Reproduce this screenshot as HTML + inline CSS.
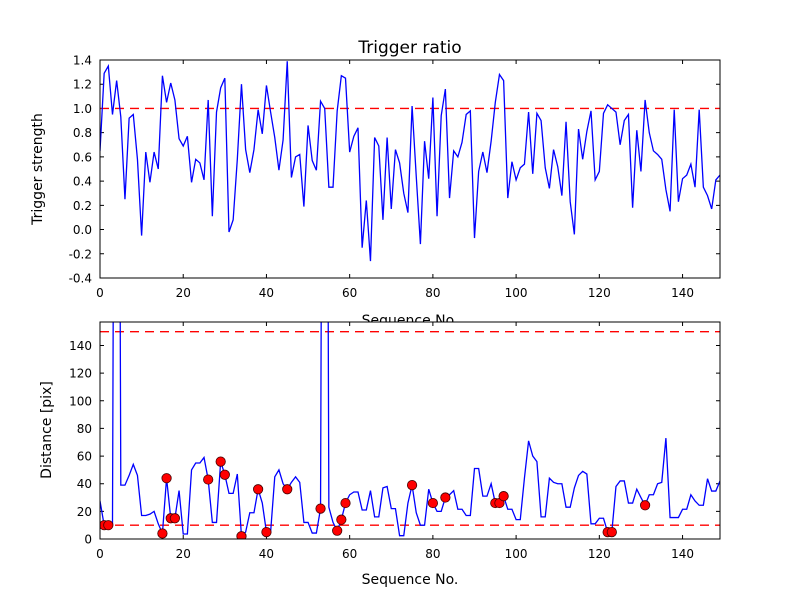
<!DOCTYPE html>
<html><head><meta charset="utf-8"><style>
html,body{margin:0;padding:0;background:#fff;}
svg{display:block;font-family:"DejaVu Sans","Liberation Sans",sans-serif;}
</style></head><body>
<svg id="chart" width="800" height="600" viewBox="0 0 800 600">
<rect width="800" height="600" fill="#fff"/>
<defs>
<clipPath id="c1"><rect x="100" y="60" width="620" height="218"/></clipPath>
<clipPath id="c2"><rect x="100" y="322" width="620" height="217"/></clipPath>
</defs>
<text x="410" y="325" font-size="14" text-anchor="middle">Sequence No.</text>
<rect x="100" y="322" width="620" height="217" fill="#fff"/>
<g id="top"></g><g id="bot"></g>
</svg>
<script>
const seqIndex = Array.from({length:150},(_,i)=>i);
const triggerStrength = [0.65,1.29,1.35,0.95,1.23,0.93,0.25,0.92,0.95,0.58,-0.05,0.64,0.39,0.64,0.50,1.27,1.05,1.21,1.07,0.75,
0.69,0.77,0.39,0.58,0.55,0.41,1.07,0.11,0.97,1.17,1.25,-0.02,0.08,0.58,1.20,0.66,0.47,0.66,0.99,0.79,
1.19,0.97,0.76,0.49,0.74,1.39,0.43,0.60,0.62,0.19,0.86,0.57,0.49,1.06,1.00,0.35,0.35,0.98,1.27,1.25,
0.64,0.77,0.84,-0.15,0.24,-0.26,0.76,0.69,0.08,0.76,0.17,0.66,0.55,0.30,0.14,1.02,0.44,-0.12,0.73,0.42,
1.09,0.11,0.94,1.16,0.26,0.65,0.60,0.72,0.95,0.98,-0.07,0.48,0.64,0.47,0.73,1.05,1.28,1.23,0.26,0.56,
0.41,0.51,0.54,0.97,0.46,0.96,0.90,0.51,0.34,0.66,0.52,0.28,0.89,0.23,-0.04,0.83,0.58,0.81,0.98,0.41,
0.48,0.96,1.03,1.00,0.97,0.70,0.90,0.95,0.18,0.82,0.48,1.07,0.80,0.65,0.62,0.58,0.33,0.15,0.99,0.23,
0.42,0.45,0.54,0.35,0.99,0.35,0.28,0.17,0.41,0.45];
const distance = [27.5,10,10,10,900,39,39,46,54,46,17,17,18,20,11,4,44,15,15,35,
3.6,3.6,50,55,55,59,43,12,12,56,46.5,33,33,47,2,5,19,19,36,26,
5,5,45,50,40,36,41,45,41,12,12,4.3,4.3,22,900,23,12,6,14,26,
32,34,34,21,21,35,16,16,37,38,22,22,2.4,2.4,26,39,19,10,10,36,
26,20,20,30,32,35,21.5,21.5,17,17,51,51,31,31,40,26,26,31,21.5,21.5,
14,14,44,71,60,56,16,16,44,41,40,40,23,23,37,46,49,47,11,11,
15,15,5,5,38,42,42,26,26,36,30,24.4,32,32,40,41,73,15.5,15.5,15.5,
21.5,21.5,32,27.5,24.4,24.4,43.6,34.7,34.7,42];
const flaggedIdx = [1,2,15,16,17,18,26,29,30,34,38,40,45,53,57,58,59,75,80,83,95,96,97,122,123,131];
const xTicks = [0,20,40,60,80,100,120,140];
const topYTicks = [-0.4,-0.2,0.0,0.2,0.4,0.6,0.8,1.0,1.2,1.4];
const botYTicks = [0,20,40,60,80,100,120,140];
const topThreshold = [1.0];
const botThresholds = [10,150];

const NS="http://www.w3.org/2000/svg";
function mk(parent,tag,attrs,text){const e=document.createElementNS(NS,tag);for(const k in attrs)e.setAttribute(k,attrs[k]);if(text!==undefined)e.textContent=text;parent.appendChild(e);return e;}
const L=100,R=720,XMAX=149;
const sx=v=>L+(v/XMAX)*(R-L);

function axes(g,top,bot,ymin,ymax,ticks,fmt){
  const sy=v=>bot-(v-ymin)/(ymax-ymin)*(bot-top);
  xTicks.forEach(t=>{
    const x=sx(t);
    const tk=mk(g,'path',{d:`M${x},${bot}v-4M${x},${top}v4`,stroke:'#000','stroke-width':1});
    
    
    const lb=mk(g,'text',{x:x,y:bot+19,'font-size':12,'text-anchor':'middle'},String(t));
    
    
  });
  ticks.forEach(t=>{
    const y=sy(t);
    const tk=mk(g,'path',{d:`M${L},${y}h4M${R},${y}h-4`,stroke:'#000','stroke-width':1});
    
    
    const lb=mk(g,'text',{x:92,y:y+4.5,'font-size':12,'text-anchor':'end'},fmt(t));
    
    
  });
  return sy;
}

const gt=document.getElementById('top');
const syT=axes(gt,60,278,-0.4,1.4,topYTicks,v=>v.toFixed(1));
topThreshold.forEach(v=>{
  const ln=mk(gt,'line',{x1:L,x2:R,y1:syT(v),y2:syT(v),stroke:'#f00','stroke-width':1.3,'stroke-dasharray':'9,6'});
  
  
});
const pT=mk(gt,'polyline',{points:seqIndex.map(i=>`${sx(i)},${syT(triggerStrength[i])}`).join(' '),fill:'none',stroke:'#00f','stroke-width':1.3,'clip-path':'url(#c1)'});


const fT=mk(gt,'rect',{x:L,y:60,width:R-L,height:218,fill:'none',stroke:'#000','stroke-width':1});



const gb=document.getElementById('bot');
const syB=axes(gb,322,539,0,157,botYTicks,v=>String(v));
botThresholds.forEach(v=>{
  const ln=mk(gb,'line',{x1:L,x2:R,y1:syB(v),y2:syB(v),stroke:'#f00','stroke-width':1.3,'stroke-dasharray':'9,6'});
  
  
});
const cg=mk(gb,'g',{'clip-path':'url(#c2)'});
const pB=mk(cg,'polyline',{points:seqIndex.map(i=>`${sx(i)},${syB(distance[i])}`).join(' '),fill:'none',stroke:'#00f','stroke-width':1.3});


flaggedIdx.forEach(i=>{
  const c=mk(cg,'circle',{cx:sx(i),cy:syB(distance[i]),r:4.7,fill:'#f00',stroke:'#400','stroke-width':0.8});
  
  
});
const fB=mk(gb,'rect',{x:L,y:322,width:R-L,height:217,fill:'none',stroke:'#000','stroke-width':1});



const svg=document.getElementById('chart');
const t1=mk(svg,'text',{x:410,y:53,'font-size':17,'text-anchor':'middle'},'Trigger ratio');


const a2=mk(svg,'text',{x:410,y:584,'font-size':14,'text-anchor':'middle'},'Sequence No.');


const a3=mk(svg,'text',{x:0,y:0,'font-size':14,'text-anchor':'middle',transform:'translate(42,169) rotate(-90)'},'Trigger strength');


const a4=mk(svg,'text',{x:0,y:0,'font-size':14,'text-anchor':'middle',transform:'translate(51,430) rotate(-90)'},'Distance [pix]');


</script>
</body></html>
